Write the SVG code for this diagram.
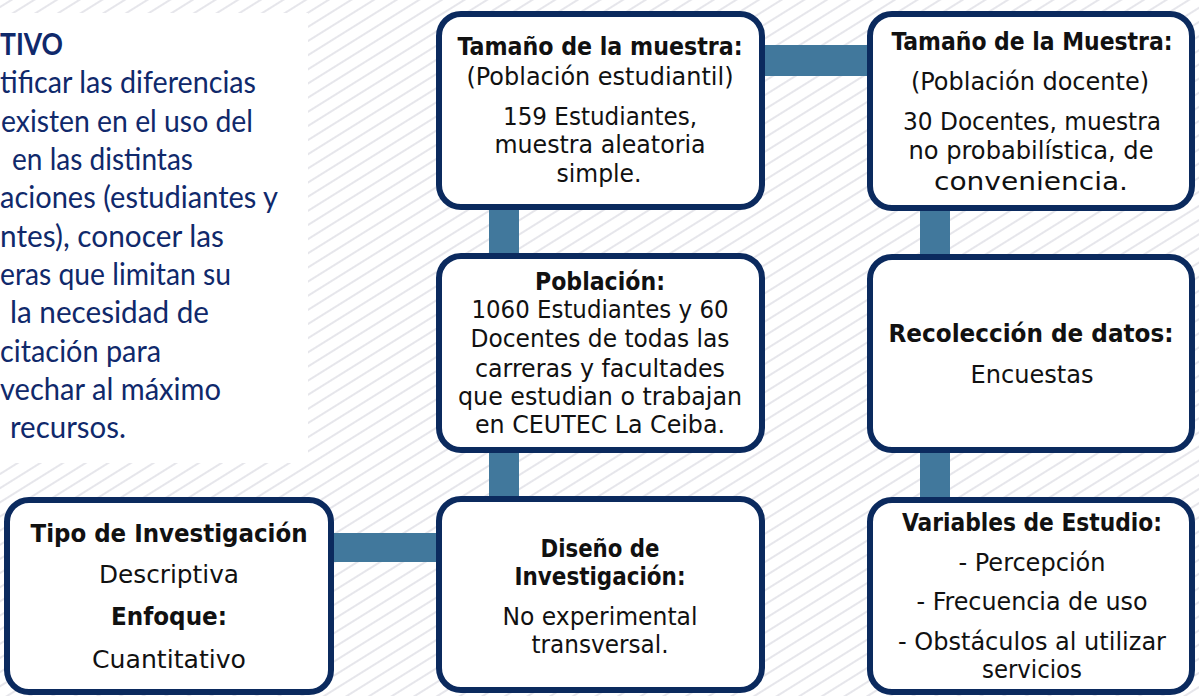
<svg xmlns="http://www.w3.org/2000/svg" width="1199" height="696" viewBox="0 0 1199 696">
<style>
.box{fill:#ffffff;stroke:#0b2a5e;stroke-width:6}
.con{fill:#41789c}
.t{font-family:"DejaVu Sans Condensed","DejaVu Sans",sans-serif;font-size:25px;fill:#111111;text-anchor:middle}
.b{font-weight:bold}
.obj{font-family:Lato,"Liberation Sans",sans-serif;font-size:30px;fill:#10296b}
</style>
<defs>
<pattern id="hatch" width="12" height="12" patternUnits="userSpaceOnUse" patternTransform="rotate(-32)">
<line x1="0" y1="6" x2="12" y2="6" stroke="#e2e2e8" stroke-width="1.7"/>
</pattern>
</defs>
<rect x="0" y="0" width="1199" height="696" fill="#ffffff"/>
<rect x="0" y="0" width="1199" height="696" fill="url(#hatch)"/>
<g id="objetivo">
<rect x="0" y="13" width="308" height="450" fill="#ffffff"/>
<text class="obj" x="0" y="55" font-weight="bold" textLength="63" lengthAdjust="spacingAndGlyphs">TIVO</text>
<text class="obj" x="0" y="93" textLength="256" lengthAdjust="spacingAndGlyphs">tificar las diferencias</text>
<text class="obj" x="1" y="132" textLength="252" lengthAdjust="spacingAndGlyphs">existen en el uso del</text>
<text class="obj" x="12" y="170" textLength="181" lengthAdjust="spacingAndGlyphs">en las distintas</text>
<text class="obj" x="0" y="208" textLength="278" lengthAdjust="spacingAndGlyphs">aciones (estudiantes y</text>
<text class="obj" x="0" y="247" textLength="224" lengthAdjust="spacingAndGlyphs">ntes), conocer las</text>
<text class="obj" x="0" y="285" textLength="231" lengthAdjust="spacingAndGlyphs">eras que limitan su</text>
<text class="obj" x="10" y="323" textLength="199" lengthAdjust="spacingAndGlyphs">la necesidad de</text>
<text class="obj" x="0" y="362" textLength="161" lengthAdjust="spacingAndGlyphs">citación para</text>
<text class="obj" x="0" y="400" textLength="221" lengthAdjust="spacingAndGlyphs">vechar al máximo</text>
<text class="obj" x="10" y="438" textLength="116" lengthAdjust="spacingAndGlyphs">recursos.</text>
</g>
<g id="connectors">
<rect class="con" x="760" y="45" width="112" height="31"/>
<rect class="con" x="489" y="205" width="30" height="53"/>
<rect class="con" x="489" y="448" width="30" height="53"/>
<rect class="con" x="329" y="533" width="112" height="29"/>
<rect class="con" x="920" y="206" width="30" height="53"/>
<rect class="con" x="920" y="448" width="30" height="54"/>
</g>
<g id="muestra-estudiantil">
<rect class="box" x="439" y="14" width="323" height="193" rx="22"/>
<text class="t b" x="600" y="55" textLength="285" lengthAdjust="spacingAndGlyphs">Tamaño de la muestra:</text>
<text class="t" x="600" y="85" textLength="267" lengthAdjust="spacingAndGlyphs">(Población estudiantil)</text>
<text class="t" x="600" y="125" textLength="194" lengthAdjust="spacingAndGlyphs">159 Estudiantes,</text>
<text class="t" x="600" y="153" textLength="211" lengthAdjust="spacingAndGlyphs">muestra aleatoria</text>
<text class="t" x="599" y="182" textLength="85" lengthAdjust="spacingAndGlyphs">simple.</text>
</g>
<g id="muestra-docente">
<rect class="box" x="870" y="14" width="322" height="194" rx="22"/>
<text class="t b" x="1032" y="50" textLength="281" lengthAdjust="spacingAndGlyphs">Tamaño de la Muestra:</text>
<text class="t" x="1030" y="90" textLength="238" lengthAdjust="spacingAndGlyphs">(Población docente)</text>
<text class="t" x="1032" y="130" textLength="258" lengthAdjust="spacingAndGlyphs">30 Docentes, muestra</text>
<text class="t" x="1031" y="159" textLength="245" lengthAdjust="spacingAndGlyphs">no probabilística, de</text>
<text class="t" x="1031" y="190" textLength="194" lengthAdjust="spacingAndGlyphs">conveniencia.</text>
</g>
<g id="poblacion">
<rect class="box" x="439" y="256" width="323" height="194" rx="22"/>
<text class="t b" x="600" y="290" textLength="130" lengthAdjust="spacingAndGlyphs">Población:</text>
<text class="t" x="600" y="318" textLength="257" lengthAdjust="spacingAndGlyphs">1060 Estudiantes y 60</text>
<text class="t" x="600" y="347" textLength="259" lengthAdjust="spacingAndGlyphs">Docentes de todas las</text>
<text class="t" x="600" y="377" textLength="250" lengthAdjust="spacingAndGlyphs">carreras y facultades</text>
<text class="t" x="600" y="405" textLength="284" lengthAdjust="spacingAndGlyphs">que estudian o trabajan</text>
<text class="t" x="600" y="433" textLength="250" lengthAdjust="spacingAndGlyphs">en CEUTEC La Ceiba.</text>
</g>
<g id="diseno">
<rect class="box" x="439" y="499" width="323" height="191" rx="22"/>
<text class="t b" x="600" y="557" textLength="119" lengthAdjust="spacingAndGlyphs">Diseño de</text>
<text class="t b" x="600" y="585" textLength="171" lengthAdjust="spacingAndGlyphs">Investigación:</text>
<text class="t" x="600" y="625" textLength="195" lengthAdjust="spacingAndGlyphs">No experimental</text>
<text class="t" x="600" y="653" textLength="137" lengthAdjust="spacingAndGlyphs">transversal.</text>
</g>
<g id="tipo">
<rect class="box" x="7" y="500" width="324" height="192" rx="22"/>
<text class="t b" x="169" y="542" textLength="277" lengthAdjust="spacingAndGlyphs">Tipo de Investigación</text>
<text class="t" x="169" y="583" textLength="140" lengthAdjust="spacingAndGlyphs">Descriptiva</text>
<text class="t b" x="169" y="625" textLength="116" lengthAdjust="spacingAndGlyphs">Enfoque:</text>
<text class="t" x="169" y="668" textLength="154" lengthAdjust="spacingAndGlyphs">Cuantitativo</text>
</g>
<g id="recoleccion">
<rect class="box" x="870" y="257" width="322" height="193" rx="22"/>
<text class="t b" x="1031" y="342" textLength="285" lengthAdjust="spacingAndGlyphs">Recolección de datos:</text>
<text class="t" x="1032" y="383" textLength="123" lengthAdjust="spacingAndGlyphs">Encuestas</text>
</g>
<g id="variables">
<rect class="box" x="870" y="500" width="322" height="192" rx="22"/>
<text class="t b" x="1032" y="531" textLength="260" lengthAdjust="spacingAndGlyphs">Variables de Estudio:</text>
<text class="t" x="1032" y="571" textLength="147" lengthAdjust="spacingAndGlyphs">- Percepción</text>
<text class="t" x="1032" y="610" textLength="231" lengthAdjust="spacingAndGlyphs">- Frecuencia de uso</text>
<text class="t" x="1032" y="650" textLength="268" lengthAdjust="spacingAndGlyphs">- Obstáculos al utilizar</text>
<text class="t" x="1032" y="678" textLength="100" lengthAdjust="spacingAndGlyphs">servicios</text>
</g>
</svg>
